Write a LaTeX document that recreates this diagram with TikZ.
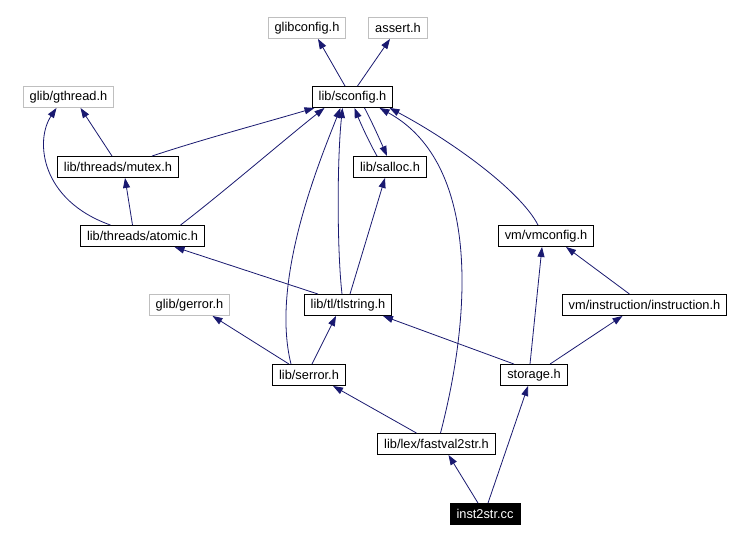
\documentclass[tikz,border=0pt]{standalone}
\usepackage{fontspec}
\setmainfont{Liberation Sans}
\usetikzlibrary{arrows.meta}
\definecolor{edgeblue}{HTML}{191970}
\definecolor{greyb}{HTML}{BFBFBF}
\begin{document}
\begin{tikzpicture}[x=1pt,y=-1pt,
  box/.style={draw=black, line width=0.9pt, rectangle, minimum height=21pt,
    inner xsep=6.5pt, inner ysep=0pt, font=\fontsize{12.8}{14}\selectfont},
  extbox/.style={box, draw=greyb},
  rootbox/.style={box, fill=black, text=white},
  edge/.style={draw=edgeblue, line width=0.8pt, -{Triangle[length=10pt,width=7pt]}}]
\useasboundingbox (0,0) rectangle (730,540);
\fill[white] (0,0) rectangle (730,540);

% nodes
\node[extbox] (glibconfig) at (307,28) {glibconfig.h};
\node[extbox] (assert) at (398,28) {assert.h};
\node[box] (sconfig) at (352.5,97) {lib/sconfig.h};
\node[extbox] (gthread) at (68.5,97) {glib/gthread.h};
\node[box] (mutex) at (118,167) {lib/threads/mutex.h};
\node[box] (salloc) at (390,167) {lib/salloc.h};
\node[box] (atomic) at (142.5,236) {lib/threads/atomic.h};
\node[box] (vmconfig) at (546,236) {vm/vmconfig.h};
\node[extbox] (gerror) at (189.5,305) {glib/gerror.h};
\node[box] (tlstring) at (348,305) {lib/tl/tlstring.h};
\node[box] (instruction) at (644.5,305) {vm/instruction/instruction.h};
\node[box] (serror) at (309,375) {lib/serror.h};
\node[box] (storage) at (534,375) {storage.h};
\node[box] (fastval) at (436.5,444) {lib/lex/fastval2str.h};
\node[rootbox] (inst2str) at (485,514) {inst2str.cc};

% edges
\draw[edge] ([xshift=-7.5pt]sconfig.north) -- ([xshift=11pt]glibconfig.south);
\draw[edge] ([xshift=5pt]sconfig.north) -- ([xshift=-8pt]assert.south);
\draw[edge] ([xshift=-6pt]mutex.north) -- ([xshift=12pt]gthread.south);
\draw[edge] ([xshift=-32pt]atomic.north) .. controls (40,200) and (35,140) .. ([xshift=-12pt]gthread.south);
\draw[edge] ([xshift=-10pt]atomic.north) -- ([xshift=7pt]mutex.south);
\draw[edge] ([xshift=34pt]mutex.north) .. controls (200,140) and (260,124) .. ([xshift=-38pt]sconfig.south);
\draw[edge] ([xshift=38pt]atomic.north) .. controls (220,195) and (290,135) .. ([xshift=-28pt]sconfig.south);
\draw[edge] ([xshift=12pt]sconfig.south) .. controls (372,122) and (380,140) .. ([xshift=-3pt]salloc.north);
\draw[edge] ([xshift=-13pt]salloc.north) .. controls (368,140) and (360,122) .. ([xshift=2pt]sconfig.south);
\draw[edge] ([xshift=-8pt]vmconfig.north) .. controls (520,190) and (450,140) .. ([xshift=37pt]sconfig.south);
\draw[edge] ([xshift=4pt]fastval.north) .. controls (475,300) and (475,160) .. ([xshift=27pt]sconfig.south);
\draw[edge] ([xshift=2pt]tlstring.north) -- ([xshift=-5pt]salloc.south);
\draw[edge] ([xshift=-30pt]tlstring.north) -- ([xshift=32pt]atomic.south);
\draw[edge] ([xshift=-6pt]tlstring.north) .. controls (337,250) and (337,160) .. ([xshift=-10pt]sconfig.south);
\draw[edge] ([xshift=-18pt]serror.north) .. controls (270,280) and (320,160) .. ([xshift=-12pt]sconfig.south);
\draw[edge] ([xshift=-20pt]serror.north) -- ([xshift=23pt]gerror.south);
\draw[edge] ([xshift=3pt]serror.north) -- ([xshift=-12pt]tlstring.south);
\draw[edge] ([xshift=-20pt]storage.north) -- ([xshift=35pt]tlstring.south);
\draw[edge] ([xshift=-4pt]storage.north) -- ([xshift=-4pt]vmconfig.south);
\draw[edge] ([xshift=16pt]storage.north) -- ([xshift=-22pt]instruction.south);
\draw[edge] ([xshift=-15pt]instruction.north) -- ([xshift=20pt]vmconfig.south);
\draw[edge] ([xshift=-20pt]fastval.north) -- ([xshift=24pt]serror.south);
\draw[edge] ([xshift=-7pt]inst2str.north) -- ([xshift=12pt]fastval.south);
\draw[edge] ([xshift=3pt]inst2str.north) -- ([xshift=-6pt]storage.south);
\end{tikzpicture}
\end{document}
